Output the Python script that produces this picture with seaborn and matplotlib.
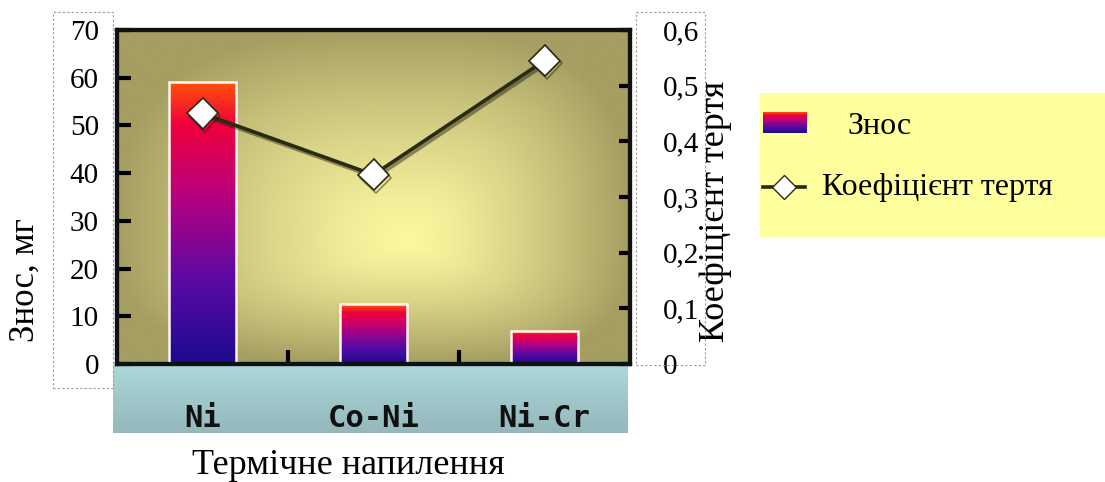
import numpy as np
import pandas as pd
import matplotlib
matplotlib.use("Agg")
import matplotlib.pyplot as plt
import matplotlib.patheffects as pe
from matplotlib.colors import LinearSegmentedColormap
from matplotlib.patches import Rectangle
from matplotlib.lines import Line2D
import seaborn as sns

# ---- data ----
materials = ["Ni", "Co-Ni", "Ni-Cr"]
wear_mg = [59, 12.5, 7]
friction = [0.45, 0.34, 0.545]
left_ticks = [0, 10, 20, 30, 40, 50, 60, 70]
right_ticks = [0, 0.1, 0.2, 0.3, 0.4, 0.5, 0.6]
right_tick_labels = ["0", "0,1", "0,2", "0,3", "0,4", "0,5", "0,6"]
ylabel_left = "Знос, мг"
ylabel_right = "Коефіцієнт тертя"
xlabel = "Термічне напилення"
legend_labels = ["Знос", "Коефіцієнт тертя"]

plt.rcParams["font.family"] = ["Liberation Serif", "DejaVu Serif"]

W, H = 1105, 482
fig = plt.figure(figsize=(W / 100, H / 100), dpi=100)
fig.patch.set_facecolor("white")


def fx(px):
    return px / W


def fy(py):
    return 1 - py / H


def frect(x0, y0, x1, y1):
    return [fx(x0), fy(y1), fx(x1) - fx(x0), fy(y0) - fy(y1)]


# ---- light blue band under the plot ----
band = fig.add_axes(frect(113, 365, 628, 433))
band.set_zorder(0)
band.axis("off")
top_c = np.array([172, 216, 218]) / 255
bot_c = np.array([148, 184, 187]) / 255
tt = np.linspace(0, 1, 64)[:, None]
band_img = (top_c[None, :] * (1 - tt) + bot_c[None, :] * tt)[:, None, :]
band.imshow(band_img, aspect="auto", extent=[0, 1, 0, 1], transform=band.transAxes)

# ---- main axes ----
ax = fig.add_axes(frect(117, 30, 630, 364))
ax.set_zorder(1)

# background gradient (olive edges, bright yellow centre)
nx, ny = 300, 200
gx, gy = np.meshgrid(np.linspace(0, 1, nx), np.linspace(0, 1, ny))
cx, cy = 0.57, 0.37
rx = np.where(gx < cx, cx, 1 - cx)
ry = np.where(gy < cy, cy, 1 - cy)
p = 3.0
d = ((np.abs(gx - cx) / rx) ** p + (np.abs(gy - cy) / ry) ** p) ** (1 / p)
d = np.clip(d, 0, 1) ** 1.3
c_center = np.array([252, 248, 160]) / 255
c_edge = np.array([165, 158, 98]) / 255
bg = c_center[None, None, :] * (1 - d[..., None]) + c_edge[None, None, :] * d[..., None]
ax.imshow(bg, origin="lower", aspect="auto", extent=[0, 1, 0, 1],
          transform=ax.transAxes, zorder=0)

df = pd.DataFrame({"material": materials, "wear": wear_mg})
sns.barplot(data=df, x="material", y="wear", ax=ax, width=0.39,
            color="#7a0a90", edgecolor="#fff4f4", linewidth=1.8, zorder=2)

bar_cmap = LinearSegmentedColormap.from_list(
    "bar", [(0.0, "#1c0b8e"), (0.3, "#5c0aa4"), (0.6, "#b8007e"),
            (0.85, "#f0003c"), (1.0, "#ff5208")])
grad = np.linspace(0, 1, 256)[:, None]
for patch in ax.patches:
    x0, y0 = patch.get_x(), patch.get_y()
    w, h = patch.get_width(), patch.get_height()
    im = ax.imshow(grad, cmap=bar_cmap, origin="lower", aspect="auto",
                   extent=[x0, x0 + w, y0, y0 + h], zorder=2.5)
    im.set_clip_path(patch)
    patch.set_facecolor("none")
    patch.set_zorder(3)

ax.set_xlim(-0.5, 2.5)
ax.set_ylim(0, 70)
ax.set_yticks(left_ticks)
ax.set_yticklabels([str(t) for t in left_ticks])
ax.tick_params(axis="y", direction="in", length=10, width=3, pad=13,
               labelsize=21, colors="black")
ax.tick_params(axis="x", which="major", length=0, pad=29)
ax.set_xticks(range(len(materials)))
ax.set_xticklabels(materials, fontfamily="DejaVu Sans Mono",
                   fontweight="bold", fontsize=22, color="#111111")
ax.set_xticks([0.5, 1.5], minor=True)
ax.tick_params(axis="x", which="minor", direction="in", length=10, width=3)
for s in ax.spines.values():
    s.set_linewidth(3)
    s.set_color("#111111")
ax.set_xlabel(xlabel, fontsize=26)
ax.xaxis.set_label_coords((348 - 117) / 513, (364 - 449) / 334)
ax.set_ylabel(ylabel_left, fontsize=25)
ax.yaxis.set_label_coords((42 - 117) / 513, (364 - 280) / 334)

# ---- secondary axis for friction ----
ax2 = ax.twinx()
ax2.set_zorder(2)
ax2.patch.set_visible(False)
sns.lineplot(x=np.arange(len(materials)), y=friction, ax=ax2,
             color="#2a2a12", linewidth=2.6, marker="D", markersize=16,
             markerfacecolor="white", markeredgecolor="#2a2a12",
             markeredgewidth=1.2,
             path_effects=[pe.SimpleLineShadow(offset=(1.5, -2),
                                               shadow_color="#1a1a10", alpha=0.45),
                           pe.Normal()])
ax2.set_ylim(0, 0.6)
ax2.set_xlim(-0.5, 2.5)
ax2.set_yticks(right_ticks)
ax2.set_yticklabels(right_tick_labels)
ax2.tick_params(axis="y", direction="in", length=8, width=3, pad=24,
                labelsize=21, colors="black")
for s in ax2.spines.values():
    s.set_linewidth(3)
    s.set_color("#111111")
ax2.set_ylabel(ylabel_right, fontsize=26)
ax2.yaxis.set_label_coords((699 - 117) / 513, (364 - 211) / 334)

# ---- dashed boxes around tick labels ----
for (x0, y0, x1, y1) in [(53, 12, 113, 388), (636, 12, 705, 365)]:
    fig.patches.append(Rectangle((fx(x0), fy(y1)), fx(x1) - fx(x0), fy(y0) - fy(y1),
                                 transform=fig.transFigure, fill=False,
                                 edgecolor="#9a9a9a", linestyle=(0, (2, 2)),
                                 linewidth=0.8, zorder=5))

# ---- legend (manual) ----
fig.patches.append(Rectangle((fx(760), fy(237)), fx(1105) - fx(760), fy(93) - fy(237),
                             transform=fig.transFigure, facecolor="#fefe9c",
                             edgecolor="none", zorder=-1))
lax = fig.add_axes(frect(763, 112, 807, 133))
lax.set_zorder(3)
lax.axis("off")
lax.imshow(grad, cmap=bar_cmap, origin="lower", aspect="auto", extent=[0, 1, 0, 1])
fig.text(fx(847), fy(126), legend_labels[0], fontsize=23, va="center", ha="left")
fig.lines.append(Line2D([fx(763), fx(805)], [fy(187), fy(187)],
                        transform=fig.transFigure, color="#2a2a12", linewidth=2.6,
                        zorder=4))
fig.lines.append(Line2D([fx(784)], [fy(187)], transform=fig.transFigure,
                        linestyle="none", marker="D", markersize=12,
                        markerfacecolor="white", markeredgecolor="#2a2a12",
                        zorder=5))
fig.text(fx(822), fy(188), legend_labels[1], fontsize=23, va="center", ha="left")

fig.savefig("out.png", dpi=100)
